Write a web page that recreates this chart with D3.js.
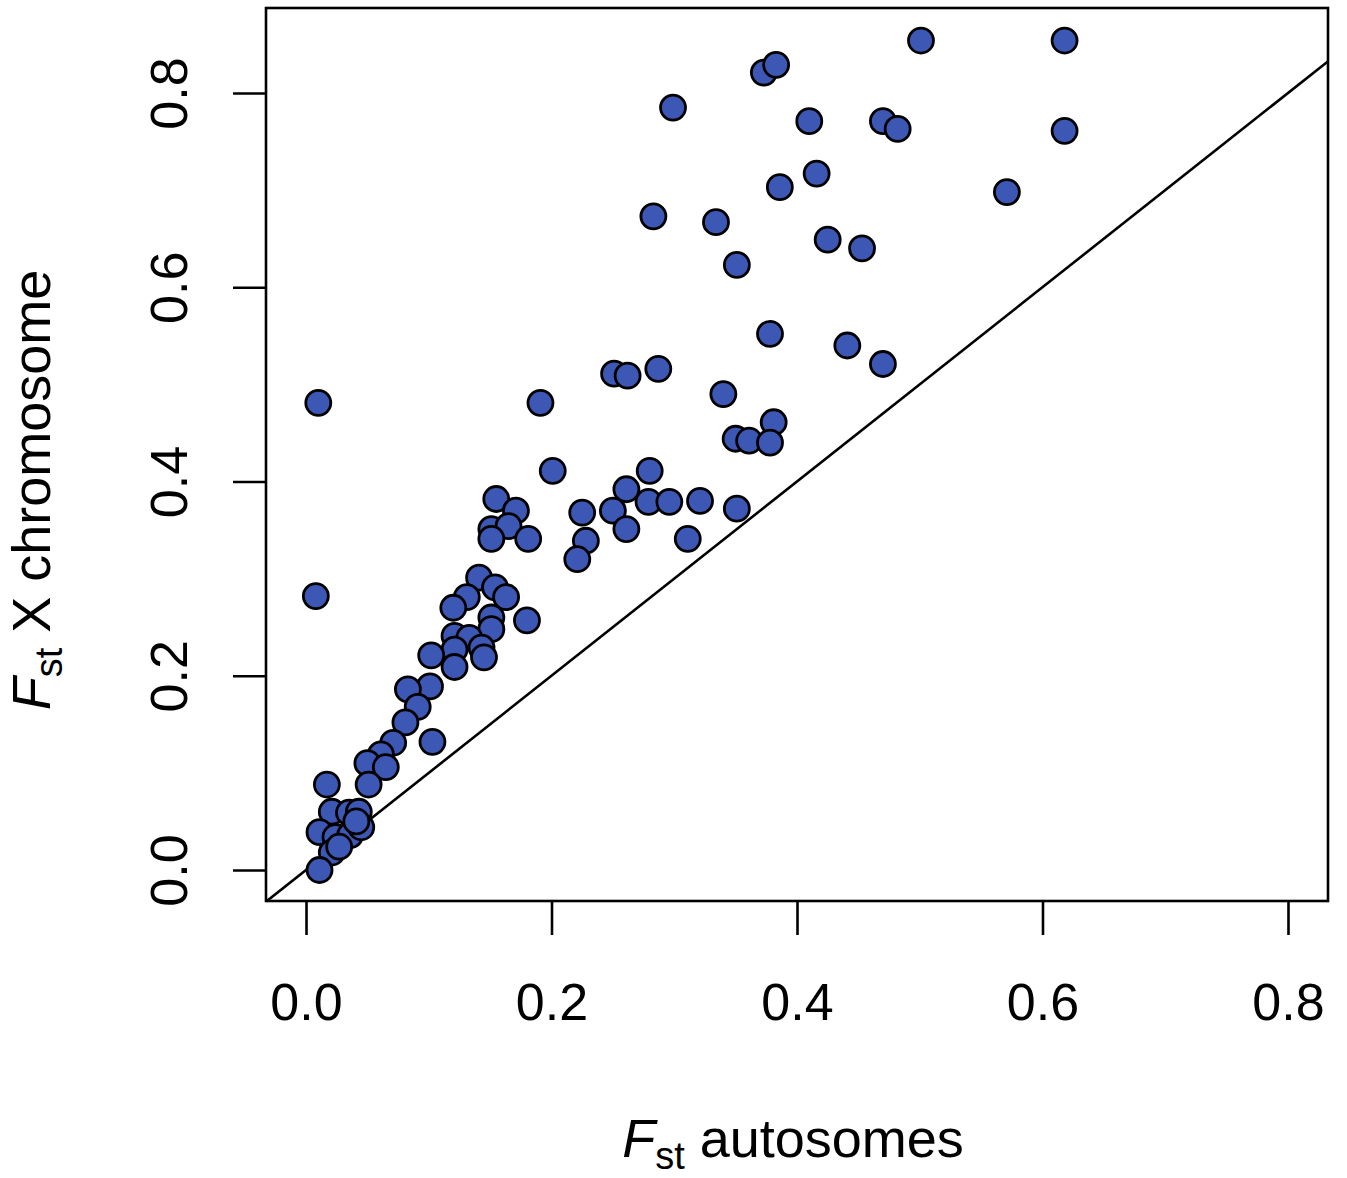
<!DOCTYPE html>
<html lang="en">
<head>
    <meta charset="UTF-8">
    <title>Fst X chromosome vs autosomes</title>
    <script src="https://d3js.org/d3.v7.min.js"></script>
    <style>
        body { margin: 0; background: #fff; }
        text { font-family: "Liberation Sans", Arial, sans-serif; fill: #000; }
        .tick-label { font-size: 52px; }
        .axis-title { font-size: 54px; }
        .dot { fill: #3d57b5; stroke: #000; stroke-width: 2.8px; }
    </style>
</head>
<body>
<div id="chart"></div>
<script>
    // Fst on the autosomes (x) and on the X chromosome (y), one entry per population pair
    const fstAuto = [
        0.618, 0.501, 0.373, 0.383, 0.299, 0.410, 0.470, 0.482, 0.618, 0.416,
        0.386, 0.571, 0.283, 0.334, 0.425, 0.453, 0.351, 0.378, 0.441, 0.470,
        0.251, 0.262, 0.287, 0.340, 0.191, 0.010, 0.381, 0.350, 0.361, 0.378,
        0.201, 0.280, 0.261, 0.155, 0.279, 0.296, 0.321, 0.171, 0.225, 0.250,
        0.351, 0.151, 0.165, 0.261, 0.151, 0.181, 0.228, 0.311, 0.221, 0.141,
        0.154, 0.163, 0.131, 0.008, 0.120, 0.151, 0.151, 0.180, 0.121, 0.133,
        0.143, 0.145, 0.121, 0.121, 0.102, 0.101, 0.083, 0.091, 0.081, 0.071,
        0.103, 0.061, 0.050, 0.065, 0.051, 0.017, 0.021, 0.035, 0.043, 0.011,
        0.024, 0.036, 0.045, 0.021, 0.027, 0.011, 0.041
    ];
    const fstX = [
        0.854, 0.854, 0.821, 0.829, 0.785, 0.771, 0.771, 0.763, 0.761, 0.717,
        0.703, 0.698, 0.673, 0.667, 0.649, 0.640, 0.623, 0.552, 0.540, 0.521,
        0.511, 0.509, 0.516, 0.490, 0.481, 0.481, 0.461, 0.444, 0.442, 0.440,
        0.411, 0.411, 0.392, 0.382, 0.379, 0.379, 0.380, 0.370, 0.368, 0.370,
        0.372, 0.351, 0.354, 0.351, 0.341, 0.341, 0.339, 0.341, 0.320, 0.301,
        0.291, 0.281, 0.281, 0.282, 0.270, 0.260, 0.248, 0.257, 0.241, 0.239,
        0.229, 0.219, 0.227, 0.209, 0.221, 0.189, 0.186, 0.168, 0.152, 0.131,
        0.132, 0.119, 0.110, 0.106, 0.088, 0.088, 0.060, 0.059, 0.060, 0.039,
        0.034, 0.036, 0.044, 0.018, 0.024, 0.000, 0.050
    ];
    const xTicks = [0.0, 0.2, 0.4, 0.6, 0.8];
    const yTicks = [0.0, 0.2, 0.4, 0.6, 0.8];

    const width = 1347, height = 1178;
    const box = { left: 266, right: 1328, top: 8, bottom: 901 };

    const svg = d3.select('#chart').append('svg')
        .attr('width', width)
        .attr('height', height);

    // R style: the plot region is the data range padded by 4%
    const x = d3.scaleLinear().domain([-0.0326, 0.8326]).range([box.left, box.right]);
    const y = d3.scaleLinear().domain([-0.0319, 0.8875]).range([box.bottom, box.top]);

    svg.append('clipPath').attr('id', 'plot-clip')
        .append('rect')
        .attr('x', box.left).attr('y', box.top)
        .attr('width', box.right - box.left)
        .attr('height', box.bottom - box.top);

    // y = x reference line
    svg.append('line')
        .attr('clip-path', 'url(#plot-clip)')
        .attr('x1', x(-1)).attr('y1', y(-1))
        .attr('x2', x(1)).attr('y2', y(1))
        .attr('stroke', '#000')
        .attr('stroke-width', 2.6);

    const points = fstAuto.map((v, i) => ({ a: v, xc: fstX[i] }));

    svg.append('g')
        .selectAll('circle')
        .data(points)
        .enter().append('circle')
        .attr('class', 'dot')
        .attr('cx', d => x(d.a))
        .attr('cy', d => y(d.xc))
        .attr('r', 12.5);

    // frame
    svg.append('rect')
        .attr('x', box.left).attr('y', box.top)
        .attr('width', box.right - box.left)
        .attr('height', box.bottom - box.top)
        .attr('fill', 'none')
        .attr('stroke', '#000')
        .attr('stroke-width', 2.6);

    // x axis: ticks outside the frame, no axis line
    const xAxis = d3.axisBottom(x)
        .tickValues(xTicks)
        .tickSize(34)
        .tickPadding(48)
        .tickFormat(d3.format('.1f'));
    const gx = svg.append('g')
        .attr('transform', `translate(0,${box.bottom})`)
        .call(xAxis);
    gx.select('.domain').remove();
    gx.selectAll('line').attr('stroke', '#000').attr('stroke-width', 2.6);
    gx.selectAll('text').attr('class', 'tick-label').attr('font-family', null).attr('font-size', null);

    const yAxis = d3.axisLeft(y)
        .tickValues(yTicks)
        .tickSize(33)
        .tickFormat(d3.format('.1f'));
    const gy = svg.append('g')
        .attr('transform', `translate(${box.left},0)`)
        .call(yAxis);
    gy.select('.domain').remove();
    gy.selectAll('line').attr('stroke', '#000').attr('stroke-width', 2.6);
    // rotated labels, reading upward, baseline near x = 187
    gy.selectAll('text')
        .attr('class', 'tick-label')
        .attr('font-family', null).attr('font-size', null)
        .attr('x', null).attr('dy', null)
        .attr('text-anchor', 'middle')
        .attr('transform', `translate(${187 - box.left},0) rotate(-90)`);

    // axis titles with italic F and subscript st
    const xt = svg.append('text')
        .attr('class', 'axis-title')
        .attr('x', 793).attr('y', 1157)
        .attr('text-anchor', 'middle');
    xt.append('tspan').attr('font-style', 'italic').text('F');
    xt.append('tspan').attr('font-size', '38px').attr('dy', 12).text('st');
    xt.append('tspan').attr('dy', -12).text(' autosomes');

    const yt = svg.append('text')
        .attr('class', 'axis-title')
        .attr('transform', 'translate(50,490) rotate(-90)')
        .attr('text-anchor', 'middle');
    yt.append('tspan').attr('font-style', 'italic').text('F');
    yt.append('tspan').attr('font-size', '38px').attr('dy', 12).text('st');
    yt.append('tspan').attr('dy', -12).text(' X chromosome');
</script>
</body>
</html>
